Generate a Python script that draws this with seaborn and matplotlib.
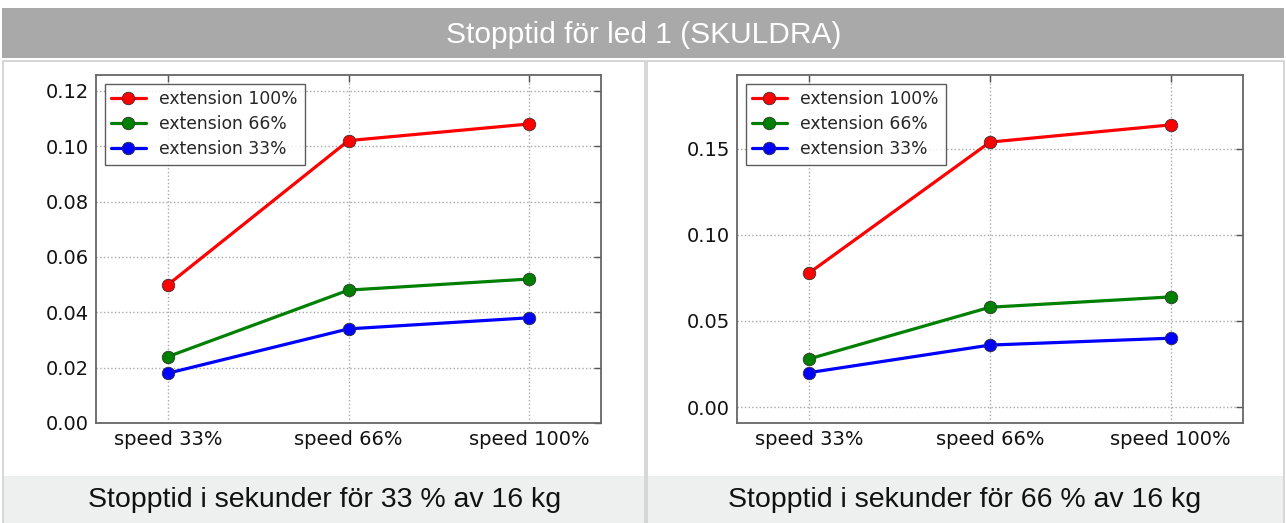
import matplotlib
matplotlib.use("Agg")
import matplotlib.pyplot as plt
from matplotlib.patches import Rectangle
from matplotlib.ticker import MultipleLocator, FormatStrFormatter
import pandas as pd
import seaborn as sns

# ---- data ----
speeds = ["speed 33%", "speed 66%", "speed 100%"]
extensions = ["extension 100%", "extension 66%", "extension 33%"]
ext_colors = ["#ff0000", "#008000", "#0000ff"]

# load 33 % of 16 kg
load33_ext100 = [0.050, 0.102, 0.108]
load33_ext66 = [0.024, 0.048, 0.052]
load33_ext33 = [0.018, 0.034, 0.038]

# load 66 % of 16 kg
load66_ext100 = [0.078, 0.154, 0.164]
load66_ext66 = [0.028, 0.058, 0.064]
load66_ext33 = [0.020, 0.036, 0.040]

main_title = "Stopptid för led 1 (SKULDRA)"
captions = ["Stopptid i sekunder för 33 % av 16 kg",
            "Stopptid i sekunder för 66 % av 16 kg"]


def long_frame(series):
    rows = []
    for ext, vals in zip(extensions, series):
        for sp, v in zip(speeds, vals):
            rows.append({"speed": sp, "extension": ext, "time": v})
    return pd.DataFrame(rows)


df33 = long_frame([load33_ext100, load33_ext66, load33_ext33])
df66 = long_frame([load66_ext100, load66_ext66, load66_ext33])

sns.set_theme(style="white")
plt.rcParams["font.family"] = ["DejaVu Sans"]

W, H = 1286, 523
fig = plt.figure(figsize=(W / 100, H / 100), dpi=100)
fig.patch.set_facecolor("white")


def frac(x0, y0, x1, y1):
    return [x0 / W, 1 - y1 / H, (x1 - x0) / W, (y1 - y0) / H]


def fig_rect(x0, y0, x1, y1, **kw):
    fig.patches.append(Rectangle((x0 / W, 1 - y1 / H), (x1 - x0) / W, (y1 - y0) / H,
                                 transform=fig.transFigure, **kw))


# header band
fig_rect(2, 8, 1284, 58, facecolor="#a9a9a9", edgecolor="none")
fig.text(644 / W, 1 - 35 / H, main_title, color="white", ha="center", va="center",
         fontsize=21.5, family=["Liberation Sans", "DejaVu Sans"])

# panel frames and caption bands
for x0, x1 in [(3, 645), (647, 1284)]:
    fig_rect(x0, 61, x1, 523, facecolor="none", edgecolor="#cfcfcf", linewidth=1.2)
    fig_rect(x0 + 1, 476, x1 - 1, 523, facecolor="#eef0ef", edgecolor="none")

for cx, txt in zip([325, 965], captions):
    fig.text(cx / W, 1 - 500 / H, txt, color="#111111", ha="center", va="center",
             fontsize=20.5, family=["Liberation Sans", "DejaVu Sans"])


def draw_panel(ax, df, ylim, ystep):
    sns.lineplot(data=df, x="speed", y="time", hue="extension", hue_order=extensions,
                 palette=ext_colors, marker="o", markersize=9, linewidth=2.3,
                 markeredgecolor="#333333", markeredgewidth=0.6, sort=False, ax=ax)
    ax.set_xlim(-0.4, 2.4)
    ax.set_ylim(*ylim)
    ax.yaxis.set_major_locator(MultipleLocator(ystep))
    ax.yaxis.set_major_formatter(FormatStrFormatter("%.2f"))
    ax.set_xlabel("")
    ax.set_ylabel("")
    ax.grid(True, linestyle=":", color="#a8a8a8", linewidth=1.0)
    ax.tick_params(direction="in", top=True, right=True, length=5, width=1,
                   color="#555555", labelsize=14, labelcolor="#111111", pad=5)
    for s in ax.spines.values():
        s.set_color("#666666")
        s.set_linewidth(1.3)
    leg = ax.legend(loc="upper left", fontsize=12.3, frameon=True, fancybox=False,
                    borderaxespad=0.5, labelspacing=0.4, handlelength=2.0,
                    borderpad=0.4, handletextpad=0.8)
    leg.get_frame().set_edgecolor("#333333")
    leg.get_frame().set_linewidth(1.0)


ax1 = fig.add_axes(frac(96, 75, 601, 423))
draw_panel(ax1, df33, (0.0, 0.1257), 0.02)

ax2 = fig.add_axes(frac(737, 75, 1243, 423))
draw_panel(ax2, df66, (-0.0093, 0.193), 0.05)

fig.savefig("out.png", dpi=100, facecolor="white")
